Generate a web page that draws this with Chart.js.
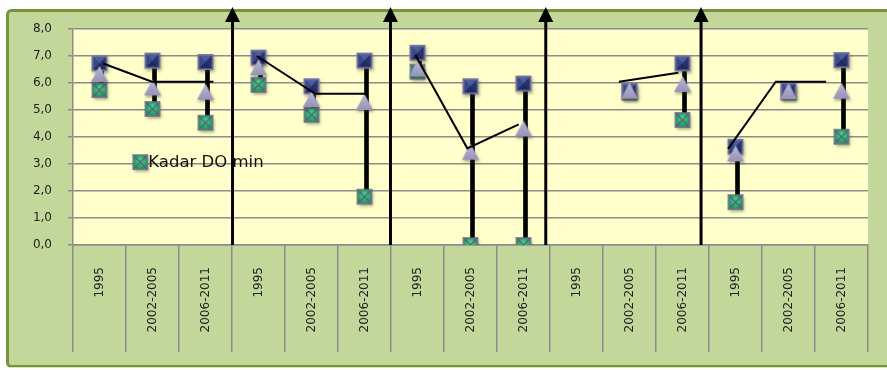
<!DOCTYPE html>
<html>
<head>
<meta charset="utf-8">
<script src="https://cdn.jsdelivr.net/npm/chart.js@4/dist/chart.umd.min.js"></script>
<style>
  html, body { margin: 0; padding: 0; background: #fff; }
  #wrap { width: 887px; height: 370px; }
</style>
</head>
<body>
<div id="wrap"><canvas id="doChart" width="887" height="370"></canvas></div>
<script>
// categories (3 periods for each of 5 stations)
const periods = ['1995', '2002-2005', '2006-2011',
                 '1995', '2002-2005', '2006-2011',
                 '1995', '2002-2005', '2006-2011',
                 '1995', '2002-2005', '2006-2011',
                 '1995', '2002-2005', '2006-2011'];

// Kadar DO (mg/l)
const doMax = [6.73, 6.83, 6.78, 6.94, 5.88, 6.83, 7.12, 5.88, 5.98, null, 5.72, 6.73, 3.64, 5.74, 6.85];
const doMin = [5.74, 5.04, 4.53, 5.93, 4.82, 1.79, 6.42, 0.0, 0.0, null, 5.65, 4.63, 1.59, 5.65, 4.01];
const doAvg = [6.30, 5.80, 5.64, 6.55, 5.37, 5.26, 6.50, 3.42, 4.28, null, 5.68, 5.93, 3.36, 5.66, 5.68];

// hand drawn trend lines (x in category units, null = break)
const trendX = [0.07, 0.99, 2.15, null, 2.97, 4.07, 5.05, null, 5.96, 6.94, 7.91, null, 9.80, 10.92, null, 11.86, 12.76, 13.71];
const trendY = [6.72, 6.05, 6.05, null, 7.00, 5.60, 5.60, null, 7.04, 3.58, 4.47, null, 6.05, 6.38, null, 3.56, 6.05, 6.05];

// vertical separator arrows (category units)
const arrowAt = [2.51, 5.49, 8.42, 11.35];

const yTicks = { min: 0, max: 8, step: 1 };

Chart.defaults.font.family = 'DejaVu Sans';
Chart.defaults.color = '#222';

// ---- marker images ----
function makeMarker(kind) {
    const c = document.createElement('canvas');
    c.width = 26; c.height = 26;
    const g = c.getContext('2d');
    g.shadowColor = 'rgba(60,60,40,0.45)';
    g.shadowBlur = 3;
    g.shadowOffsetX = 1;
    g.shadowOffsetY = 2;
    const m = 13;
    if (kind === 'max') {
        const s = 8;
        g.fillStyle = '#2e3d7c';
        g.fillRect(m - s, m - s, 2 * s, 2 * s);
        g.shadowColor = 'transparent';
        // bevel facets
        const facets = [
            ['#4d5c9c', [[-s, -s], [s, -s], [0, 0]]],
            ['#3a4886', [[-s, -s], [-s, s], [0, 0]]],
            ['#26336c', [[s, -s], [s, s], [0, 0]]],
            ['#1f2a60', [[-s, s], [s, s], [0, 0]]]
        ];
        facets.forEach(([col, pts]) => {
            g.fillStyle = col;
            g.beginPath();
            pts.forEach((p, i) => i ? g.lineTo(m + p[0], m + p[1]) : g.moveTo(m + p[0], m + p[1]));
            g.closePath();
            g.fill();
        });
        g.strokeStyle = '#7b79a0';
        g.lineWidth = 1.6;
        g.strokeRect(m - s + 0.8, m - s + 0.8, 2 * s - 1.6, 2 * s - 1.6);
    } else if (kind === 'min') {
        const s = 7.5;
        const gr = g.createRadialGradient(m, m - 2, 1, m, m, s * 1.3);
        gr.addColorStop(0, '#3fd98a');
        gr.addColorStop(1, '#137a44');
        g.fillStyle = gr;
        g.fillRect(m - s, m - s, 2 * s, 2 * s);
        g.shadowColor = 'transparent';
        g.strokeStyle = '#5e5a82';
        g.lineWidth = 1.4;
        g.beginPath();
        g.moveTo(m - s, m - s); g.lineTo(m + s, m + s);
        g.moveTo(m + s, m - s); g.lineTo(m - s, m + s);
        g.stroke();
        g.strokeStyle = '#6e6c8c';
        g.strokeRect(m - s + 0.7, m - s + 0.7, 2 * s - 1.4, 2 * s - 1.4);
    } else {
        const gr = g.createLinearGradient(0, m - 9, 0, m + 7);
        gr.addColorStop(0, '#bdb9d8');
        gr.addColorStop(1, '#9792b8');
        g.fillStyle = gr;
        g.beginPath();
        g.moveTo(m, m - 9);
        g.lineTo(m + 8.5, m + 7);
        g.lineTo(m - 8.5, m + 7);
        g.closePath();
        g.fill();
    }
    return c;
}
const markMax = makeMarker('max');
const markMin = makeMarker('min');
const markAvg = makeMarker('avg');

// ---- background / frame ----
const framePlugin = {
    id: 'frame',
    beforeDraw(chart) {
        const { ctx, chartArea: a, width, height } = chart;
        ctx.save();
        ctx.fillStyle = '#ffffff';
        ctx.fillRect(0, 0, width, height);
        ctx.fillStyle = '#c4d79b';
        ctx.beginPath();
        ctx.roundRect(7.5, 10.5, width + 10, height - 14, 4);
        ctx.fill();
        ctx.strokeStyle = '#77933c';
        ctx.lineWidth = 3;
        ctx.stroke();
        ctx.strokeStyle = '#d8e4bc';
        ctx.lineWidth = 1;
        ctx.beginPath();
        ctx.moveTo(9, height - 2.5);
        ctx.lineTo(width, height - 2.5);
        ctx.stroke();
        ctx.fillStyle = '#ffffcc';
        ctx.fillRect(a.left, a.top, a.right - a.left, a.bottom - a.top);
        ctx.restore();
    }
};

// ---- arrows + inner legend ----
const overlayPlugin = {
    id: 'overlay',
    afterDraw(chart) {
        const { ctx, chartArea: a } = chart;
        const xs = chart.scales.xl, ys = chart.scales.y;
        ctx.save();
        ctx.fillStyle = '#000';
        ctx.strokeStyle = '#000';
        ctx.lineWidth = 3;
        const tip = a.top - 22;
        arrowAt.forEach(v => {
            const x = xs.getPixelForValue(v);
            ctx.beginPath();
            ctx.moveTo(x, ys.getPixelForValue(0));
            ctx.lineTo(x, tip + 10);
            ctx.stroke();
            ctx.beginPath();
            ctx.moveTo(x, tip);
            ctx.lineTo(x + 7.5, tip + 15);
            ctx.lineTo(x - 7.5, tip + 15);
            ctx.closePath();
            ctx.fill();
        });
        // legend entry for the min series
        const lx = xs.getPixelForValue(0.77), ly = ys.getPixelForValue(3.07);
        ctx.drawImage(markMin, lx - 13, ly - 13);
        ctx.font = '16.5px "DejaVu Sans"';
        ctx.textBaseline = 'middle';
        ctx.fillStyle = '#111';
        ctx.fillText('Kadar DO min', lx + 8, ly + 1);
        ctx.restore();
    }
};

const hiLo = doMax.map((h, i) => h == null ? null : [doMin[i], h]);
const trend = trendX.map((x, i) => ({ x: x, y: trendY[i] }));

new Chart(document.getElementById('doChart'), {
    type: 'bar',
    data: {
        labels: periods,
        datasets: [
            {
                type: 'line',
                label: 'garis',
                data: trend,
                xAxisID: 'xl',
                borderColor: '#000',
                borderWidth: 2,
                pointRadius: 0,
                spanGaps: false,
                order: 0
            },
            {
                type: 'line',
                label: 'Kadar DO rata-rata',
                data: doAvg,
                showLine: false,
                pointStyle: markAvg,
                order: 1
            },
            {
                type: 'line',
                label: 'Kadar DO max',
                data: doMax,
                showLine: false,
                pointStyle: markMax,
                order: 2
            },
            {
                type: 'line',
                label: 'Kadar DO min',
                data: doMin,
                showLine: false,
                pointStyle: markMin,
                order: 3
            },
            {
                type: 'bar',
                label: 'rentang',
                data: hiLo,
                backgroundColor: '#000',
                barThickness: 4,
                order: 4
            }
        ]
    },
    options: {
        responsive: false,
        animation: false,
        events: [],
        layout: { padding: { top: 29, right: 19, left: 0, bottom: 0 } },
        plugins: {
            legend: { display: false },
            tooltip: { enabled: false }
        },
        scales: {
            x: {
                offset: true,
                grid: {
                    display: true,
                    drawOnChartArea: false,
                    offset: true,
                    tickLength: 107,
                    color: '#8c8c8c',
                    lineWidth: 1.5
                },
                border: { display: true, color: '#8c8c8c', width: 1.5 },
                ticks: {
                    autoSkip: false,
                    maxRotation: 90,
                    minRotation: 90,
                    padding: -85,
                    font: { size: 12 },
                    color: '#222'
                },
                afterFit(scale) { scale.height = 125; }
            },
            xl: {
                type: 'linear',
                display: false,
                offset: false,
                grid: { offset: false },
                min: -0.5,
                max: 14.5
            },
            y: {
                min: yTicks.min,
                max: yTicks.max,
                ticks: {
                    stepSize: yTicks.step,
                    padding: 16,
                    font: { size: 12 },
                    color: '#222',
                    callback: v => v.toFixed(1).replace('.', ',')
                },
                grid: { color: '#8c8c8c', lineWidth: 1.5, tickLength: 5 },
                border: { display: true, color: '#8c8c8c', width: 1.5 },
                afterFit(scale) { scale.width = 73; }
            }
        }
    },
    plugins: [framePlugin, overlayPlugin]
});
</script>
</body>
</html>
